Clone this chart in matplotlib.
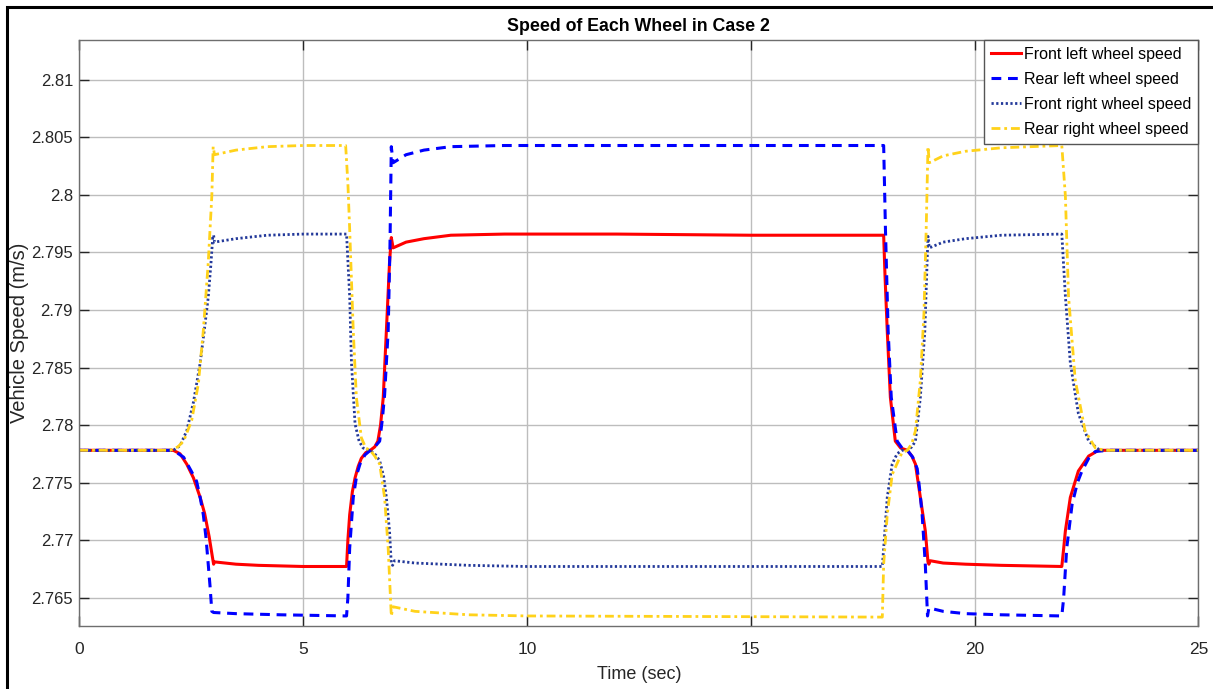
import matplotlib
matplotlib.use('Agg')
import matplotlib.pyplot as plt
from matplotlib.patches import Rectangle

plt.rcParams['font.family'] = ['Liberation Sans', 'DejaVu Sans']

# values (time in s, speed in m/s)
t_fl = [0, 2.1, 2.25, 2.4, 2.55, 2.7, 2.8, 2.9, 2.97, 3.0, 3.02, 3.5, 4.0, 5.0, 5.97,
        6.0, 6.04, 6.1, 6.16, 6.23, 6.3, 6.4, 6.5, 6.6, 6.67, 6.73, 6.79, 6.86, 6.93, 6.97, 7.01,
        7.3, 7.7, 8.3, 9.5, 12, 15, 17.97,
        18.0, 18.05, 18.12, 18.23, 18.35, 18.5, 18.6, 18.68, 18.79, 18.9, 18.96, 18.98, 19.01,
        19.3, 19.8, 20.6, 21.95,
        21.99, 22.03, 22.14, 22.32, 22.55, 22.77, 23.0, 25]
v_fl = [2.7778, 2.7778, 2.7775, 2.7766, 2.7754, 2.7737, 2.7723, 2.7703, 2.7686, 2.7679, 2.7681,
        2.7679, 2.7678, 2.7677, 2.7677,
        2.7700, 2.7722, 2.7742, 2.7754, 2.7764, 2.7771, 2.7776, 2.7778, 2.7781, 2.7786, 2.7800,
        2.7824, 2.7882, 2.7941, 2.7963, 2.7954,
        2.7959, 2.7962, 2.7965, 2.7966, 2.7966, 2.7965, 2.7965,
        2.7930, 2.7882, 2.7824, 2.7786, 2.7780, 2.7778, 2.7773, 2.7766, 2.7737, 2.7708, 2.7681,
        2.7679, 2.7682,
        2.7680, 2.7679, 2.7678, 2.7677,
        2.7692, 2.7708, 2.7737, 2.7760, 2.7773, 2.7778, 2.7778, 2.7778]

t_rl = [0, 2.1, 2.33, 2.5, 2.62, 2.7, 2.77, 2.83, 2.88, 2.92, 2.96, 3.0, 3.5, 4.5, 5.97,
        6.0, 6.04, 6.12, 6.2, 6.27, 6.38, 6.5, 6.6, 6.71, 6.77, 6.82, 6.9, 6.94, 6.97, 7.01,
        7.3, 7.7, 8.3, 9.5, 17.97,
        18.01, 18.07, 18.14, 18.27, 18.38, 18.5, 18.62, 18.72, 18.78, 18.83, 18.9, 18.95, 18.98,
        19.3, 19.8, 20.6, 21.95,
        21.99, 22.06, 22.18, 22.3, 22.4, 22.55, 22.7, 23.0, 25]
v_rl = [2.7778, 2.7778, 2.7772, 2.7760, 2.7751, 2.7737, 2.7722, 2.7702, 2.7679, 2.7660, 2.7638,
        2.7637, 2.7636, 2.7635, 2.7634,
        2.7650, 2.7693, 2.7737, 2.7757, 2.7766, 2.7774, 2.7778, 2.7781, 2.7786, 2.7805, 2.7826,
        2.7882, 2.7955, 2.8042, 2.8028,
        2.8035, 2.8039, 2.8042, 2.8043, 2.8043,
        2.7970, 2.7882, 2.7824, 2.7786, 2.7780, 2.7778, 2.7772, 2.7762, 2.7742, 2.7722, 2.7679,
        2.7634, 2.7641,
        2.7638, 2.7636, 2.7635, 2.7634,
        2.7649, 2.7693, 2.7731, 2.7750, 2.7760, 2.7771, 2.7777, 2.7778, 2.7778]

t_fr = [0, 2.1, 2.25, 2.4, 2.55, 2.7, 2.8, 2.88, 2.94, 2.98, 3.0, 3.02, 3.5, 4.2, 5.0, 5.97,
        6.04, 6.08, 6.16, 6.25, 6.34, 6.5, 6.62, 6.71, 6.8, 6.86, 6.93, 6.97, 7.0, 7.04,
        7.5, 8.7, 10, 17.94,
        17.97, 18.05, 18.16, 18.27, 18.38, 18.5, 18.6, 18.68, 18.79, 18.89, 18.94, 18.96, 18.99,
        19.3, 19.8, 20.6, 21.95,
        22.03, 22.14, 22.32, 22.55, 22.8, 25]
v_fr = [2.7778, 2.7778, 2.7782, 2.7795, 2.7820, 2.7854, 2.7885, 2.7911, 2.7940, 2.7963, 2.7965,
        2.7959, 2.7962, 2.7965, 2.7966, 2.7966,
        2.7912, 2.7854, 2.7801, 2.7786, 2.7780, 2.7778, 2.7774, 2.7769, 2.7755, 2.7737, 2.7708,
        2.7679, 2.7678, 2.7682,
        2.7680, 2.7678, 2.7677, 2.7677,
        2.7693, 2.7737, 2.7766, 2.7775, 2.7778, 2.7778, 2.7781, 2.7786, 2.7824, 2.7882, 2.7941,
        2.7964, 2.7954,
        2.7959, 2.7962, 2.7965, 2.7966,
        2.7912, 2.7854, 2.7810, 2.7786, 2.7778, 2.7778]

t_rr = [0, 2.03, 2.2, 2.33, 2.51, 2.66, 2.77, 2.88, 2.96, 2.99, 3.02, 3.5, 4.2, 5.0, 5.95,
        6.0, 6.04, 6.12, 6.19, 6.3, 6.4, 6.5, 6.6, 6.71, 6.82, 6.9, 6.97, 7.01,
        7.5, 8.7, 10, 17.94,
        17.97, 18.05, 18.16, 18.38, 18.5, 18.6, 18.68, 18.79, 18.87, 18.92, 18.96, 18.99,
        19.3, 19.8, 20.6, 21.95,
        22.03, 22.10, 22.25, 22.47, 22.7, 22.9, 25]
v_rr = [2.7778, 2.7778, 2.7781, 2.7786, 2.7804, 2.7836, 2.7882, 2.7941, 2.7999, 2.8042, 2.8035,
        2.8039, 2.8042, 2.8043, 2.8043,
        2.8010, 2.7970, 2.7882, 2.7824, 2.7789, 2.7780, 2.7778, 2.7773, 2.7766, 2.7737, 2.7693,
        2.7634, 2.7642,
        2.7638, 2.7635, 2.7634, 2.7633,
        2.7679, 2.7722, 2.7757, 2.7776, 2.7778, 2.7784, 2.7795, 2.7839, 2.7897, 2.7970, 2.8042,
        2.8028,
        2.8034, 2.8038, 2.8041, 2.8043,
        2.7999, 2.7912, 2.7839, 2.7795, 2.7780, 2.7778, 2.7778]

fig = plt.figure(figsize=(12.13, 6.89), dpi=100)
ax = fig.add_axes([0.0654, 0.0910, 0.9225, 0.8514])

ax.plot(t_fl, v_fl, color='#ff0000', lw=2.2, label='Front left wheel speed')
ax.plot(t_rl, v_rl, color='#0000ff', lw=2.2, dashes=(3.2, 2.2), label='Rear left wheel speed')
ax.plot(t_fr, v_fr, color='#23399a', lw=2.0, dashes=(0.8, 0.9), label='Front right wheel speed')
ax.plot(t_rr, v_rr, color='#ffd21a', lw=2.0, dashes=(3.2, 1.4, 1.0, 1.4), label='Rear right wheel speed')

ax.set_xlim(0, 25)
ax.set_ylim(2.7625, 2.8135)
ax.set_xticks([0, 5, 10, 15, 20, 25])
ax.set_xticklabels(['0', '5', '10', '15', '20', '25'])
ax.set_yticks([2.765, 2.77, 2.775, 2.78, 2.785, 2.79, 2.795, 2.8, 2.805, 2.81])
ax.set_yticklabels(['2.765', '2.77', '2.775', '2.78', '2.785', '2.79', '2.795', '2.8', '2.805', '2.81'])

ax.grid(True, color='#bdbdbd', lw=1.0)
ax.set_axisbelow(True)
for s in ax.spines.values():
    s.set_color('#6e6e6e')
    s.set_linewidth(1.0)
ax.tick_params(direction='in', length=7.5, width=1, colors='#262626', labelsize=12,
               top=True, right=True, pad=4.5)
ax.tick_params(axis='x', labelsize=12.5, pad=11)

ax.set_title('Speed of Each Wheel in Case 2', fontsize=12.8, fontweight='bold', color='black', pad=6)
ax.set_xlabel('Time (sec)', fontsize=13, color='#262626', labelpad=7)
ax.set_ylabel('Vehicle Speed (m/s)', fontsize=14.5, color='#262626')
ax.yaxis.set_label_coords(-0.045, 0.5)

leg = ax.legend(loc='upper right', fontsize=11.5, handlelength=1.9, handletextpad=0.15,
                borderaxespad=0, borderpad=0.45, labelspacing=0.62, fancybox=False, framealpha=1)
leg.get_frame().set_edgecolor('#555555')
leg.get_frame().set_linewidth(1.0)

fig.patches.append(Rectangle((6.5 / 1213, -0.05), 1.1, (689 - 6.5) / 689 + 0.05,
                             transform=fig.transFigure, fill=False, edgecolor='black', lw=2.2))

fig.savefig('out.png', dpi=100)
